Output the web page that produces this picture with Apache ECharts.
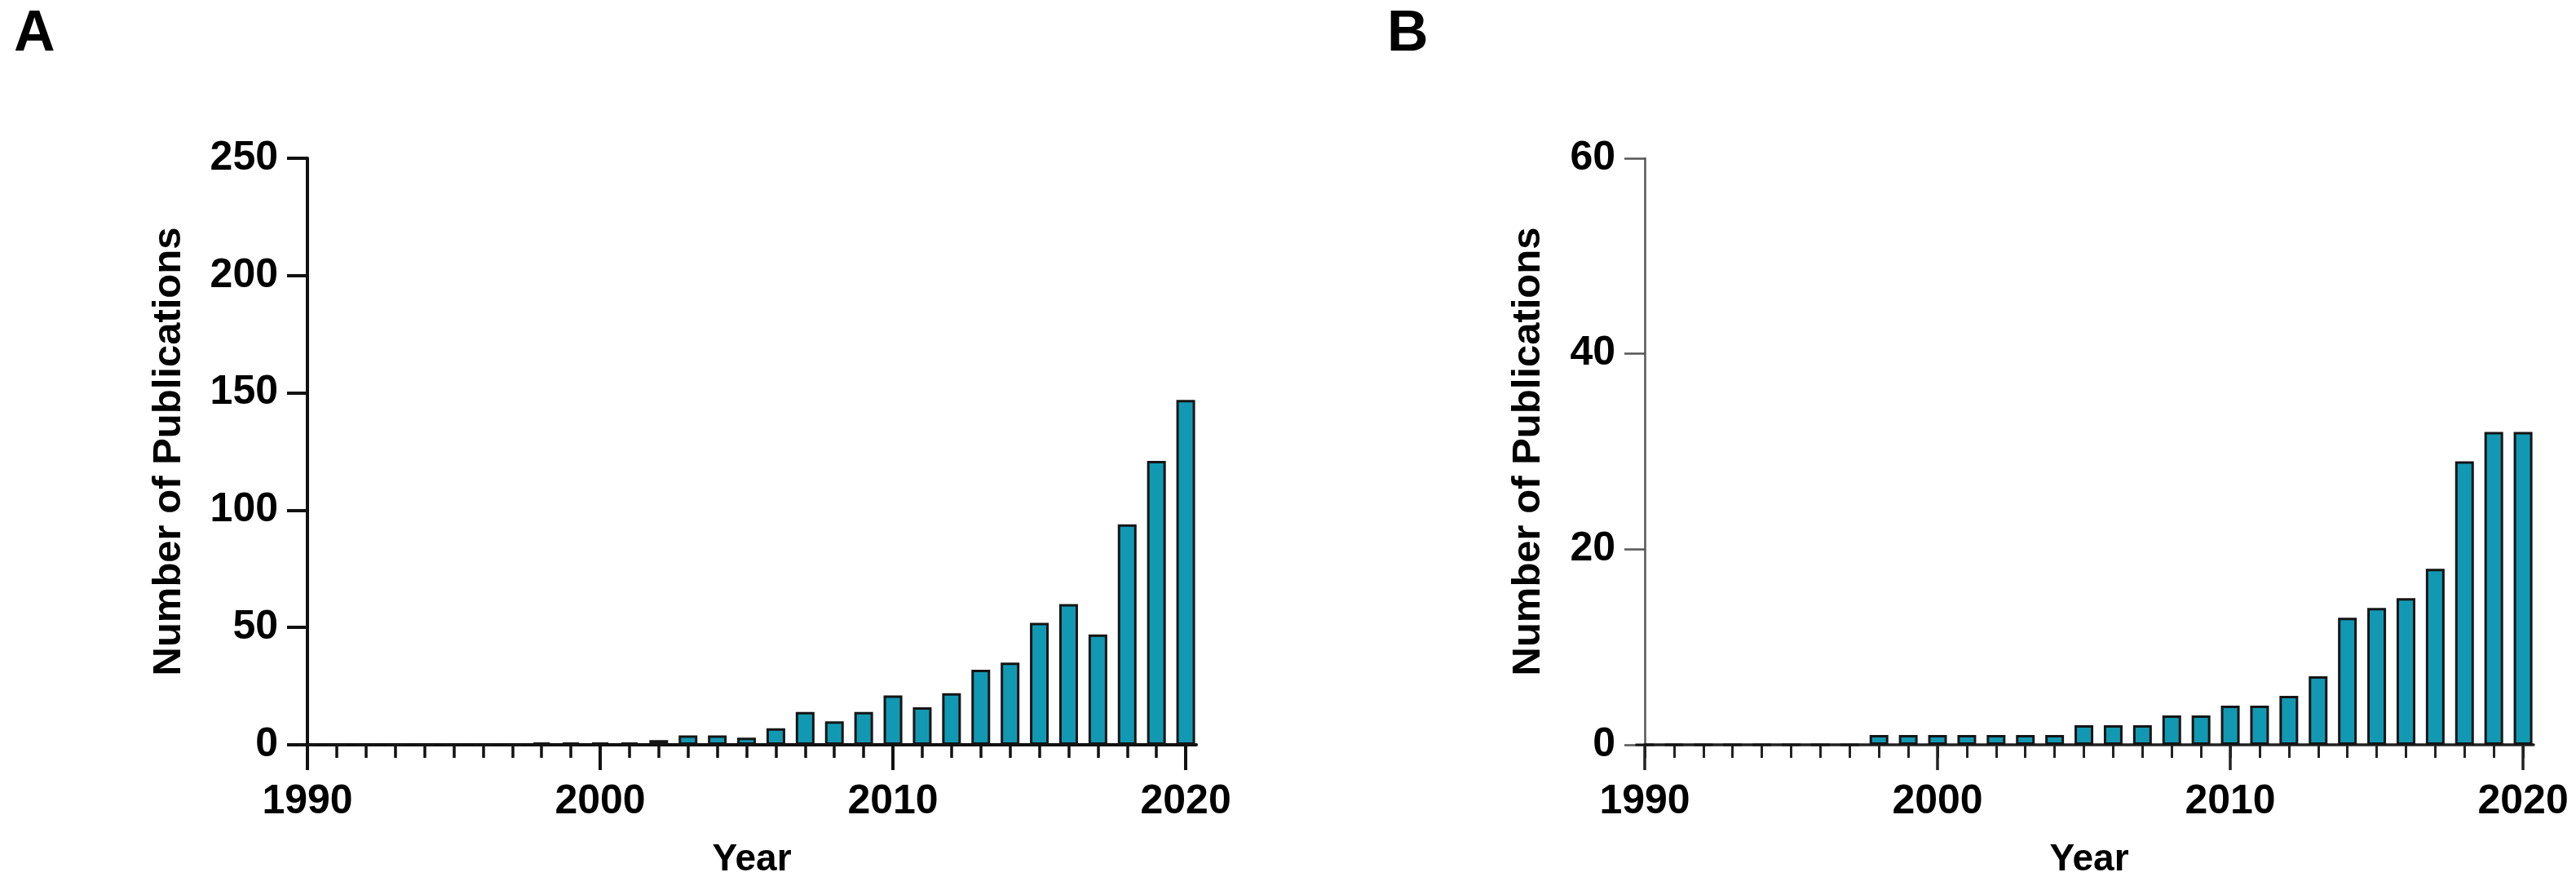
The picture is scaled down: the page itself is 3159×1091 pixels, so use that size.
<!DOCTYPE html>
<html><head><meta charset="utf-8">
<script src="https://cdn.jsdelivr.net/npm/echarts@6/dist/echarts.min.js"></script>
<style>html,body{margin:0;padding:0;background:#fff}#c{width:3159px;height:1091px}</style>
</head><body><div id="c"></div>
<script>
// ---- data ----
const years = [1990,1991,1992,1993,1994,1995,1996,1997,1998,1999,2000,2001,2002,2003,2004,2005,2006,2007,2008,2009,2010,2011,2012,2013,2014,2015,2016,2017,2018,2019,2020];
const pubsA = [0,0,0,0,0,0,0,0,1,1,1,1,2,4,4,3,7,14,10,14,21,16,22,32,35,52,60,47,94,121,147];
const pubsB = [0,0,0,0,0,0,0,0,1,1,1,1,1,1,1,2,2,2,3,3,4,4,5,7,13,14,15,18,29,32,32];
const majorYears = [1990,2000,2010,2020];
const yTicksA = [0,50,100,150,200,250];
const yTicksB = [0,20,40,60];
const panelLabels = ['A','B'];
const xTitle = 'Year';
const yTitle = 'Number of Publications';

// ---- styles ----
const FONT = 'Liberation Sans, Arial, sans-serif';
const BAR = '#1199b3';
const xMax = 2020.36;

function xAxes(gridIndex, lineColor, lineWidth) {
  return [
    {
      type: 'value', gridIndex, position: 'bottom', min: years[0], max: xMax,
      axisLine: { show: true, onZero: false, lineStyle: { color: lineColor, width: lineWidth } },
      axisTick: { show: true, customValues: majorYears, length: 31, lineStyle: { color: lineColor, width: lineWidth } },
      axisLabel: { customValues: majorYears, formatter: v => String(v), margin: 45, fontSize: 50, fontWeight: 'bold', color: '#000', fontFamily: FONT },
      splitLine: { show: false },
      name: xTitle, nameLocation: 'middle', nameGap: 118,
      nameTextStyle: { fontSize: 46, fontWeight: 'bold', color: '#000', fontFamily: FONT }
    },
    {
      type: 'value', gridIndex, position: 'bottom', min: years[0], max: xMax,
      axisLine: { show: false, onZero: false },
      axisTick: { show: true, customValues: years, length: 16, lineStyle: { color: lineColor, width: lineWidth - 0.5 } },
      axisLabel: { show: false },
      splitLine: { show: false }
    }
  ];
}

function yAxis(gridIndex, ticks, lineColor, lineWidth, nameGap) {
  return {
    type: 'value', gridIndex, min: ticks[0], max: ticks[ticks.length - 1], interval: ticks[1] - ticks[0],
    axisLine: { show: true, lineStyle: { color: lineColor, width: lineWidth } },
    axisTick: { show: true, length: 25, lineStyle: { color: lineColor, width: lineWidth } },
    axisLabel: { margin: 36, fontSize: 50, fontWeight: 'bold', color: '#000', fontFamily: FONT },
    splitLine: { show: false },
    name: yTitle, nameLocation: 'middle', nameGap,
    nameTextStyle: { fontSize: 49, fontWeight: 'bold', color: '#000', fontFamily: FONT }
  };
}

const chart = echarts.init(document.getElementById('c'), null, { renderer: 'canvas' });
chart.setOption({
  animation: false,
  backgroundColor: '#fff',
  title: [
    { text: panelLabels[0], left: 17, top: 8, padding: 0, textStyle: { fontSize: 70, fontWeight: 'bold', color: '#000', fontFamily: FONT } },
    { text: panelLabels[1], left: 1701, top: 8, padding: 0, textStyle: { fontSize: 70, fontWeight: 'bold', color: '#000', fontFamily: FONT } }
  ],
  grid: [
    { left: 377, top: 194, width: 1090, height: 719 },
    { left: 2017, top: 194, width: 1090, height: 719 }
  ],
  xAxis: [].concat(xAxes(0, '#111', 4), xAxes(1, '#222', 3.5)),
  yAxis: [yAxis(0, yTicksA, '#111', 4, 145), yAxis(1, yTicksB, '#555', 2.5, 118)],
  series: [
    {
      type: 'bar', xAxisIndex: 0, yAxisIndex: 0, barWidth: 23,
      data: years.map((y, i) => [y, pubsA[i]]),
      itemStyle: { color: BAR, borderColor: '#151515', borderWidth: 3 }
    },
    {
      type: 'bar', xAxisIndex: 2, yAxisIndex: 1, barWidth: 23,
      data: years.map((y, i) => [y, pubsB[i]]),
      itemStyle: { color: BAR, borderColor: '#151515', borderWidth: 3 }
    }
  ]
});
</script>
</body></html>
